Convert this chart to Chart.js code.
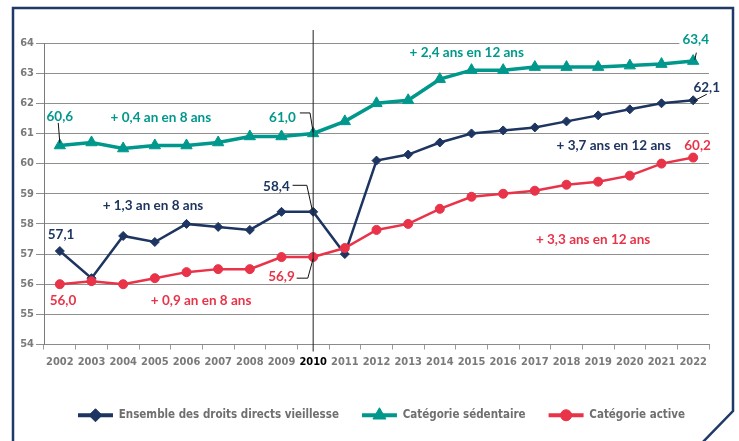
<!DOCTYPE html>
<html>
<head>
<meta charset="utf-8">
<script src="https://cdn.jsdelivr.net/npm/chart.js@4"></script>
<style>
  html, body { margin: 0; padding: 0; background: #fff; }
  #wrap { width: 739px; height: 441px; position: relative; }
</style>
</head>
<body>
<div id="wrap"><canvas id="age-chart"></canvas></div>
<script>
// years and series (age moyen de départ)
const years = ['2002', '2003', '2004', '2005', '2006', '2007', '2008', '2009', '2010', '2011', '2012',
    '2013', '2014', '2015', '2016', '2017', '2018', '2019', '2020', '2021', '2022'];
const ensemble = [57.1, 56.2, 57.6, 57.4, 58.0, 57.9, 57.8, 58.4, 58.4, 57.0, 60.1,
    60.3, 60.7, 61.0, 61.1, 61.2, 61.4, 61.6, 61.8, 62.0, 62.1];
const sedentaire = [60.6, 60.7, 60.5, 60.6, 60.6, 60.7, 60.9, 60.9, 61.0, 61.4, 62.0,
    62.1, 62.8, 63.1, 63.1, 63.2, 63.2, 63.2, 63.25, 63.3, 63.4];
const active = [56.0, 56.1, 56.0, 56.2, 56.4, 56.5, 56.5, 56.9, 56.9, 57.2, 57.8,
    58.0, 58.5, 58.9, 59.0, 59.1, 59.3, 59.4, 59.6, 60.0, 60.2];
const yMin = 54;
const yMax = 64;

const NAVY = '#1d3560';
const TEAL = '#00988c';
const RED = '#e83349';
const GREY_TXT = '#6f6f6f';

// labels: [text, x (category index), y (value), colour, align]
const notes = [
    ['60,6', 0, 61.57, TEAL, 'center'],
    ['+ 0,4 an en 8 ans', 3.19, 61.54, TEAL, 'center'],
    ['61,0', 7.45, 61.54, TEAL, 'right'],
    ['+ 2,4 ans en 12 ans', 12.85, 63.68, TEAL, 'center'],
    ['63,4', 20.08, 64.11, TEAL, 'center'],
    ['62,1', 20.43, 62.51, NAVY, 'center'],
    ['+ 3,7 ans en 12 ans', 17.49, 60.58, NAVY, 'center'],
    ['60,2', 20.14, 60.61, RED, 'center'],
    ['+ 1,3 an en 8 ans', 2.94, 58.61, NAVY, 'center'],
    ['58,4', 7.26, 59.24, NAVY, 'right'],
    ['57,1', 0.04, 57.64, NAVY, 'center'],
    ['56,0', 0.1, 55.47, RED, 'center'],
    ['+ 0,9 an en 8 ans', 4.46, 55.47, RED, 'center'],
    ['56,9', 7.42, 56.24, RED, 'right'],
    ['+ 3,3 ans en 12 ans', 16.84, 57.47, RED, 'center']
];

// leader lines, as [index, value] pairs
const leaders = [
    [[-0.05, 61.35], [0, 60.68]],
    [[7.58, 61.68], [7.9, 61.68], [8, 61.04]],
    [[20.1, 63.68], [20.05, 63.44]],
    [[20.02, 62.08], [20.43, 62.3]],
    [[7.35, 59.28], [7.8, 59.28], [7.97, 58.47]],
    [[7.48, 56.2], [7.83, 56.2], [8, 56.85]]
];

const NARROW = '"Liberation Sans Narrow", "DejaVu Sans Condensed", "Arial Narrow", sans-serif';
const NOTE_FONT = 'bold 13.5px Lato, "Noto Sans", sans-serif';

const frame = {
    id: 'frame',
    beforeDraw(chart) {
        const ctx = chart.ctx;
        ctx.save();
        ctx.fillStyle = '#fff';
        ctx.fillRect(0, 0, chart.width, chart.height);
        ctx.strokeStyle = '#1f3a68';
        ctx.lineWidth = 2.5;
        ctx.beginPath();
        ctx.moveTo(13, 445);
        ctx.lineTo(13, 8);
        ctx.lineTo(733, 8);
        ctx.lineTo(733, 411);
        ctx.lineTo(700, 445);
        ctx.stroke();
        ctx.restore();
    }
};

const overlay = {
    id: 'overlay',
    afterLayout(chart) {
        // legend sits a bit right of the canvas centre
        chart.legend.left += 27;
        chart.legend.right += 27;
    },
    afterDatasetsDraw(chart) {
        const ctx = chart.ctx;
        const x = chart.scales.x;
        const y = chart.scales.y;
        ctx.save();

        // 2010 marker line
        const x10 = x.getPixelForValue(years.indexOf('2010'));
        ctx.strokeStyle = '#222';
        ctx.lineWidth = 1;
        ctx.beginPath();
        ctx.moveTo(x10, y.getPixelForValue(yMax) - 13);
        ctx.lineTo(x10, chart.chartArea.bottom + 7);
        ctx.stroke();

        // leaders
        ctx.strokeStyle = '#111';
        ctx.lineWidth = 1;
        leaders.forEach(pts => {
            ctx.beginPath();
            pts.forEach((p, i) => {
                const px = x.getPixelForValue(p[0]);
                const py = y.getPixelForValue(p[1]);
                if (i === 0) ctx.moveTo(px, py); else ctx.lineTo(px, py);
            });
            ctx.stroke();
        });

        // texts
        ctx.font = NOTE_FONT;
        ctx.textBaseline = 'middle';
        notes.forEach(n => {
            const px = x.getPixelForValue(n[1]);
            const py = y.getPixelForValue(n[2]);
            ctx.textAlign = n[4];
            if (n[0] === '63,4') {
                const w = ctx.measureText(n[0]).width;
                ctx.fillStyle = '#fff';
                ctx.fillRect(px - w / 2 - 3, py - 8, w + 6, 16);
            }
            ctx.fillStyle = n[3];
            ctx.fillText(n[0], px, py);
        });
        ctx.restore();
    },
    afterDraw(chart) {
        // markers on the legend lines
        const legend = chart.legend;
        const ctx = chart.ctx;
        const sizes = {rectRot: 6.5, triangle: 7.5, circle: 5.5};
        ctx.save();
        legend.legendItems.forEach((item, i) => {
            const box = legend.legendHitBoxes[i];
            const ds = chart.data.datasets[item.datasetIndex];
            ctx.fillStyle = ds.borderColor;
            ctx.strokeStyle = ds.borderColor;
            Chart.helpers.drawPoint(ctx, {
                pointStyle: ds.pointStyle,
                radius: sizes[ds.pointStyle],
                borderWidth: 1,
                rotation: 0
            }, box.left + 17.5, box.top + box.height / 2);
        });
        ctx.restore();
    }
};

const ctx = document.getElementById('age-chart').getContext('2d');
const ageChart = new Chart(ctx, {
    type: 'line',
    data: {
        labels: years,
        datasets: [
            {
                label: 'Ensemble des droits directs vieillesse',
                data: ensemble,
                borderColor: NAVY,
                backgroundColor: NAVY,
                borderWidth: 2.5,
                pointStyle: 'rectRot',
                pointRadius: 4.5,
                pointBorderWidth: 1,
                order: 2
            },
            {
                label: 'Catégorie sédentaire',
                data: sedentaire,
                borderColor: TEAL,
                backgroundColor: TEAL,
                borderWidth: 3.5,
                pointStyle: 'triangle',
                pointRadius: 6.5,
                pointBorderWidth: 1,
                order: 1
            },
            {
                label: 'Catégorie active',
                data: active,
                borderColor: RED,
                backgroundColor: RED,
                borderWidth: 2.5,
                pointStyle: 'circle',
                pointRadius: 4.5,
                pointBorderWidth: 1,
                order: 0
            }
        ]
    },
    options: {
        responsive: true,
        maintainAspectRatio: false,
        animation: false,
        layout: {
            padding: {left: 0, right: 30, top: 43, bottom: 10}
        },
        scales: {
            x: {
                offset: true,
                grid: {
                    offset: true,
                    drawOnChartArea: false,
                    tickLength: 5,
                    color: '#9a9a9a'
                },
                border: {color: '#8a8a8a'},
                ticks: {
                    padding: 6,
                    autoSkip: false,
                    maxRotation: 0,
                    minRotation: 0,
                    font: {family: NARROW, size: 11, weight: 'bold'},
                    color: c => c.index === 8 ? '#000' : '#7a7a7a'
                },
                afterFit: s => { s.height = 42; }
            },
            y: {
                min: yMin,
                max: yMax,
                ticks: {
                    stepSize: 1,
                    padding: 2,
                    font: {family: NARROW, size: 11, weight: 'bold'},
                    color: '#7a7a7a'
                },
                grid: {
                    color: '#8f8f8f',
                    tickLength: 8
                },
                border: {color: '#7a7a7a'},
                afterFit: s => { s.width = 44; }
            }
        },
        plugins: {
            tooltip: {enabled: false},
            legend: {
                position: 'bottom',
                labels: {
                    boxWidth: 35,
                    boxHeight: 4,
                    padding: 23,
                    color: GREY_TXT,
                    font: {family: NARROW, size: 11.5, weight: 'bold'},
                    sort: (a, b) => a.datasetIndex - b.datasetIndex,
                    generateLabels: chart => Chart.defaults.plugins.legend.labels.generateLabels(chart)
                        .map(l => Object.assign(l, {lineWidth: 0}))
                }
            }
        }
    },
    plugins: [frame, overlay]
});
</script>
</body>
</html>
